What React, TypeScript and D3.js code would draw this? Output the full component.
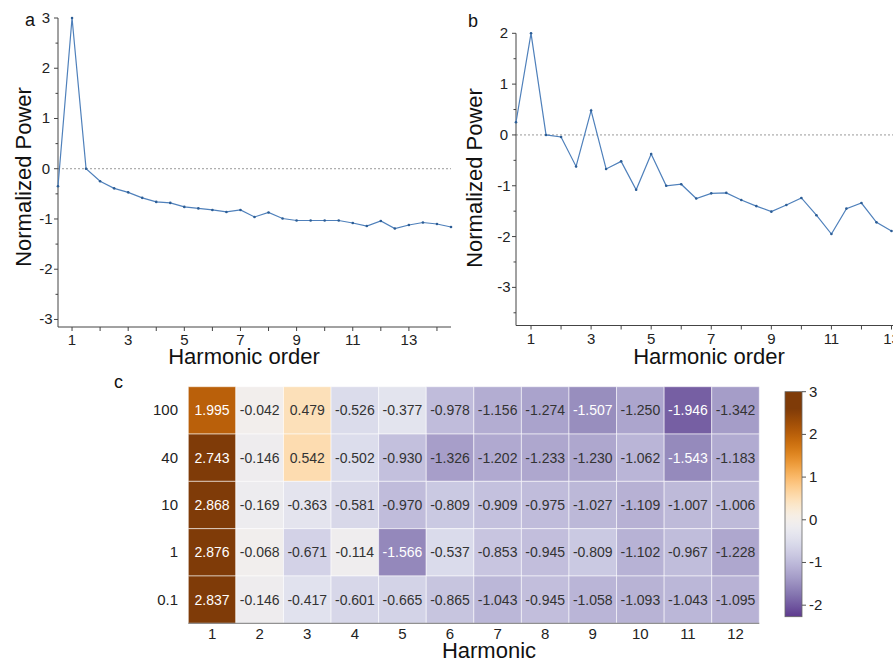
import React from "react";
import * as d3 from "d3";

// Panel a: normalized power along harmonic order (sampled every half order)
const ordersA = [0.5, 1, 1.5, 2, 2.5, 3, 3.5, 4, 4.5, 5, 5.5, 6, 6.5, 7, 7.5, 8, 8.5, 9, 9.5, 10, 10.5, 11, 11.5, 12, 12.5, 13, 13.5, 14, 14.5];
const powerA = [-0.35, 3.0, 0.0, -0.25, -0.39, -0.47, -0.58, -0.66, -0.68, -0.76, -0.79, -0.82, -0.86, -0.82, -0.96, -0.87, -0.99, -1.03, -1.03, -1.03, -1.03, -1.08, -1.14, -1.04, -1.19, -1.12, -1.07, -1.1, -1.16];

// Panel b
const ordersB = [0.5, 1, 1.5, 2, 2.5, 3, 3.5, 4, 4.5, 5, 5.5, 6, 6.5, 7, 7.5, 8, 8.5, 9, 9.5, 10, 10.5, 11, 11.5, 12, 12.5, 13];
const powerB = [0.25, 2.0, 0.0, -0.04, -0.62, 0.48, -0.67, -0.52, -1.08, -0.375, -1.0, -0.97, -1.25, -1.15, -1.14, -1.28, -1.4, -1.51, -1.38, -1.24, -1.58, -1.95, -1.45, -1.34, -1.72, -1.89];

const oddTicks = [1, 3, 5, 7, 9, 11, 13];
const yTicksA = [-3, -2, -1, 0, 1, 2, 3];
const yTicksB = [-3, -2, -1, 0, 1, 2];

// Panel c: heatmap rows and harmonic columns
const rowLabels = ["100", "40", "10", "1", "0.1"];
const harmonics = [1, 2, 3, 4, 5, 6, 7, 8, 9, 10, 11, 12];
const row100 = [1.995, -0.042, 0.479, -0.526, -0.377, -0.978, -1.156, -1.274, -1.507, -1.25, -1.946, -1.342];
const row40 = [2.743, -0.146, 0.542, -0.502, -0.93, -1.326, -1.202, -1.233, -1.23, -1.062, -1.543, -1.183];
const row10 = [2.868, -0.169, -0.363, -0.581, -0.97, -0.809, -0.909, -0.975, -1.027, -1.109, -1.007, -1.006];
const row1 = [2.876, -0.068, -0.671, -0.114, -1.566, -0.537, -0.853, -0.945, -0.809, -1.102, -0.967, -1.228];
const row01 = [2.837, -0.146, -0.417, -0.601, -0.665, -0.865, -1.043, -0.945, -1.058, -1.093, -1.043, -1.095];
const heatRows = [row100, row40, row10, row1, row01];
const colorbarTicks = [-2, -1, 0, 1, 2, 3];

const FONT = "'Liberation Sans', Arial, Helvetica, sans-serif";
const AXIS = "#444";
const LINE = "#4f80bb";

type PanelProps = {
  orders: number[];
  power: number[];
  xRange: [number, number];
  xDomain: [number, number];
  yDomain: [number, number];
  yRange: [number, number];
  yTicks: number[];
  letter: string;
  letterPos: [number, number];
  yTitleX: number;
  yTitleY: number;
  xTitleX: number;
  clipRight: number;
};

function LinePanel(p: PanelProps) {
  const x = d3.scaleLinear().domain(p.xDomain).range(p.xRange);
  const y = d3.scaleLinear().domain(p.yDomain).range(p.yRange);
  const pts = p.orders.map((o, i) => [o, p.power[i]] as [number, number]);
  const line = d3
    .line<[number, number]>()
    .x((d) => x(d[0]))
    .y((d) => y(d[1]));
  const x0 = p.xRange[0];
  const x1 = Math.min(p.xRange[1], p.clipRight);
  const yBottom = p.yRange[0];
  const yTop = p.yRange[1];
  const intTicks = d3.range(Math.ceil(p.xDomain[0]), Math.floor(p.xDomain[1]) + 1);
  const halfTicks = d3
    .range(Math.ceil(p.yDomain[0] * 2), Math.floor(p.yDomain[1] * 2) + 1)
    .map((k) => k / 2)
    .filter((v) => !Number.isInteger(v));
  return (
    <g>
      <text x={p.letterPos[0]} y={p.letterPos[1]} fontSize={18} fontFamily={FONT} fill="#111">
        {p.letter}
      </text>
      {/* zero reference */}
      <line x1={x0} x2={x1} y1={y(0)} y2={y(0)} stroke="#999" strokeWidth={1} strokeDasharray="2,2" />
      {/* y axis */}
      <line x1={x0} x2={x0} y1={yTop} y2={yBottom} stroke={AXIS} strokeWidth={1} />
      {p.yTicks.map((t) => (
        <g key={"yt" + t}>
          <line x1={x0 - 4} x2={x0} y1={y(t)} y2={y(t)} stroke={AXIS} />
          <text x={x0 - 12} y={y(t) + 5} fontSize={15} fontFamily={FONT} fill="#222" textAnchor="middle">
            {t}
          </text>
        </g>
      ))}
      {halfTicks.map((t) => (
        <line key={"yh" + t} x1={x0 - 2.5} x2={x0} y1={y(t)} y2={y(t)} stroke={AXIS} />
      ))}
      {/* x axis */}
      <line x1={x0} x2={x1} y1={yBottom} y2={yBottom} stroke={AXIS} strokeWidth={1} />
      {intTicks.map((t) => (
        <line key={"xt" + t} x1={x(t)} x2={x(t)} y1={yBottom} y2={yBottom + 4} stroke={AXIS} />
      ))}
      {oddTicks.map((t) => (
        <text key={"xl" + t} x={x(t)} y={yBottom + 18} fontSize={15} fontFamily={FONT} fill="#222" textAnchor="middle">
          {t}
        </text>
      ))}
      <path d={line(pts) || ""} fill="none" stroke={LINE} strokeWidth={1.2} />
      {pts.map((d, i) => (
        <circle key={"pt" + i} cx={x(d[0])} cy={y(d[1])} r={1.3} fill="#2c5d95" />
      ))}
      <text
        transform={`translate(${p.yTitleX},${p.yTitleY}) rotate(-90)`}
        fontSize={22}
        fontFamily={FONT}
        fill="#111"
        textAnchor="middle"
      >
        Normalized Power
      </text>
      <text x={p.xTitleX} y={364} fontSize={22} fontFamily={FONT} fill="#111" textAnchor="middle">
        Harmonic order
      </text>
    </g>
  );
}

function Heatmap() {
  const x = d3.scaleBand<number>().domain(harmonics).range([188.3, 759.3]);
  const y = d3.scaleBand<string>().domain(rowLabels).range([386.7, 623.3]);
  // PuOr runs purple (t=0) to brown (t=1)
  const color = d3.scaleDiverging(d3.interpolatePuOr).domain([-3, 0, 2.6]).clamp(true);
  const cbY = d3.scaleLinear().domain([-2.27, 3]).range([616.7, 391.7]);
  const n = 40;
  const stops = d3.range(0, n + 1).map((i) => {
    const v = 3 - (i / n) * (3 + 2.27);
    return { off: i / n, c: color(v) };
  });
  return (
    <g>
      <defs>
        <linearGradient id="cbGrad" x1="0" y1="0" x2="0" y2="1">
          {stops.map((s, i) => (
            <stop key={i} offset={s.off} stopColor={s.c as string} />
          ))}
        </linearGradient>
      </defs>
      <text x={114} y={388} fontSize={18} fontFamily={FONT} fill="#111">
        c
      </text>
      {heatRows.map((row, ri) =>
        row.map((v, ci) => {
          const h = harmonics[ci];
          const r = rowLabels[ri];
          const light = v > 1.5 || v < -1.5;
          return (
            <g key={`c${ri}-${ci}`}>
              <rect
                x={x(h)}
                y={y(r)}
                width={x.bandwidth()}
                height={y.bandwidth()}
                fill={color(v) as string}
                stroke="#ffffff"
                strokeOpacity={0.55}
                strokeWidth={1}
              />
              <text
                x={(x(h) as number) + x.bandwidth() / 2}
                y={(y(r) as number) + y.bandwidth() / 2 + 5}
                fontSize={14}
                fontFamily={FONT}
                fill={light ? "#ffffff" : "#333"}
                textAnchor="middle"
              >
                {v.toFixed(3)}
              </text>
            </g>
          );
        })
      )}
      <line x1={188.3} x2={759.3} y1={623.3} y2={623.3} stroke="#777" strokeWidth={1} />
      {rowLabels.map((r) => (
        <text
          key={"rl" + r}
          x={178}
          y={(y(r) as number) + y.bandwidth() / 2 + 5}
          fontSize={15}
          fontFamily={FONT}
          fill="#222"
          textAnchor="end"
        >
          {r}
        </text>
      ))}
      {harmonics.map((h) => (
        <text
          key={"hl" + h}
          x={(x(h) as number) + x.bandwidth() / 2}
          y={638.5}
          fontSize={15}
          fontFamily={FONT}
          fill="#222"
          textAnchor="middle"
        >
          {h}
        </text>
      ))}
      <text x={489} y={658} fontSize={22} fontFamily={FONT} fill="#111" textAnchor="middle">
        Harmonic
      </text>
      {/* colour bar */}
      <rect x={785} y={391.7} width={17} height={225} fill="url(#cbGrad)" stroke="#666" strokeWidth={0.8} />
      {colorbarTicks.map((t) => (
        <g key={"cb" + t}>
          <line x1={802} x2={806} y1={cbY(t)} y2={cbY(t)} stroke="#555" />
          <text x={809} y={cbY(t) + 5} fontSize={15} fontFamily={FONT} fill="#222">
            {t}
          </text>
        </g>
      ))}
    </g>
  );
}

export default function App() {
  return (
    <svg
      width={893}
      height={662}
      viewBox="0 0 893 662"
      style={{ position: "absolute", left: 0, top: 0, background: "#fff" }}
    >
      <rect x={0} y={0} width={893} height={662} fill="#fff" />
      <LinePanel
        orders={ordersA}
        power={powerA}
        xDomain={[0.5, 14.5]}
        xRange={[58, 451]}
        yDomain={[-3.15, 3]}
        yRange={[327, 18]}
        yTicks={yTicksA}
        letter="a"
        letterPos={[25, 26]}
        yTitleX={31}
        yTitleY={177}
        xTitleX={244}
        clipRight={893}
      />
      <LinePanel
        orders={ordersB}
        power={powerB}
        xDomain={[0.5, 13.05]}
        xRange={[516, 893]}
        yDomain={[-3.75, 2]}
        yRange={[325.5, 33.3]}
        yTicks={yTicksB}
        letter="b"
        letterPos={[468, 27]}
        yTitleX={482}
        yTitleY={178}
        xTitleX={709}
        clipRight={893}
      />
      <Heatmap />
    </svg>
  );
}
